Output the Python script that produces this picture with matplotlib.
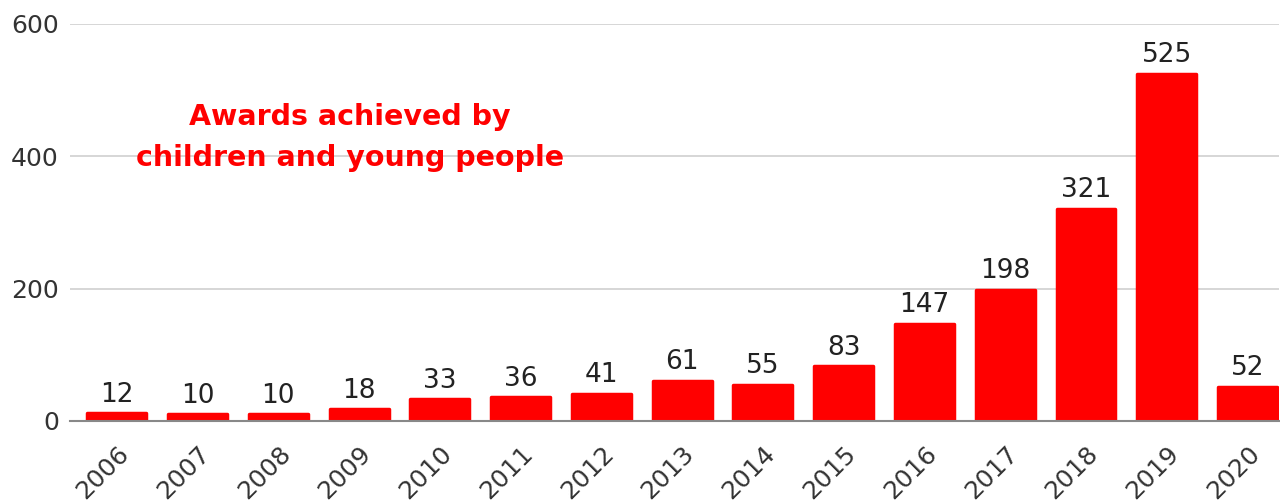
import matplotlib
matplotlib.use("Agg")
import matplotlib.pyplot as plt

years = ["2006", "2007", "2008", "2009", "2010", "2011", "2012", "2013",
         "2014", "2015", "2016", "2017", "2018", "2019", "2020"]
awards = [12, 10, 10, 18, 33, 36, 41, 61, 55, 83, 147, 198, 321, 525, 52]
yticks = [0, 200, 400, 600]
title_text = "Awards achieved by\nchildren and young people"

RED = "#ff0000"
NUMFONT = "DejaVu Sans"
fig = plt.figure(figsize=(12.8, 5.04), dpi=100)
ax = fig.add_axes([70 / 1280, 1 - 421 / 504, (1279 - 70) / 1280, (421 - 24) / 504])

x = list(range(len(years)))
bars = ax.bar(x, awards, width=0.73, color=RED, edgecolor=RED, linewidth=2.5,
              joinstyle="round", zorder=3)

for xi, v in zip(x, awards):
    ax.annotate(str(v), (xi, v), xytext=(0, 4), textcoords="offset points",
                ha="center", va="bottom", fontsize=19, color="#222222",
                family=NUMFONT, zorder=4)

ax.set_xlim(-0.58, 14.39)
ax.set_ylim(0, 600)
ax.set_yticks(yticks)
ax.set_yticklabels([str(t) for t in yticks], fontsize=18, color="#333333",
                   family=NUMFONT)
ax.set_xticks(x)
ax.set_xticklabels(years, rotation=45, ha="right", rotation_mode="anchor",
                   fontsize=18, color="#333333", family=NUMFONT)
ax.tick_params(axis="both", length=0)
ax.tick_params(axis="y", pad=8)
ax.tick_params(axis="x", pad=15)

ax.grid(axis="y", color="#d0d0d0", linewidth=1.2, zorder=0)
for s in ["top", "right", "left"]:
    ax.spines[s].set_visible(False)
ax.spines["bottom"].set_color("#888888")
ax.spines["bottom"].set_linewidth(1.5)
ax.spines["bottom"].set_zorder(5)

ax.text(2.89, 428, title_text, ha="center", va="center", fontsize=20.5,
        fontweight="bold", color=RED, family="DejaVu Sans", linespacing=1.6,
        zorder=6)

fig.savefig("out.png", dpi=100)
